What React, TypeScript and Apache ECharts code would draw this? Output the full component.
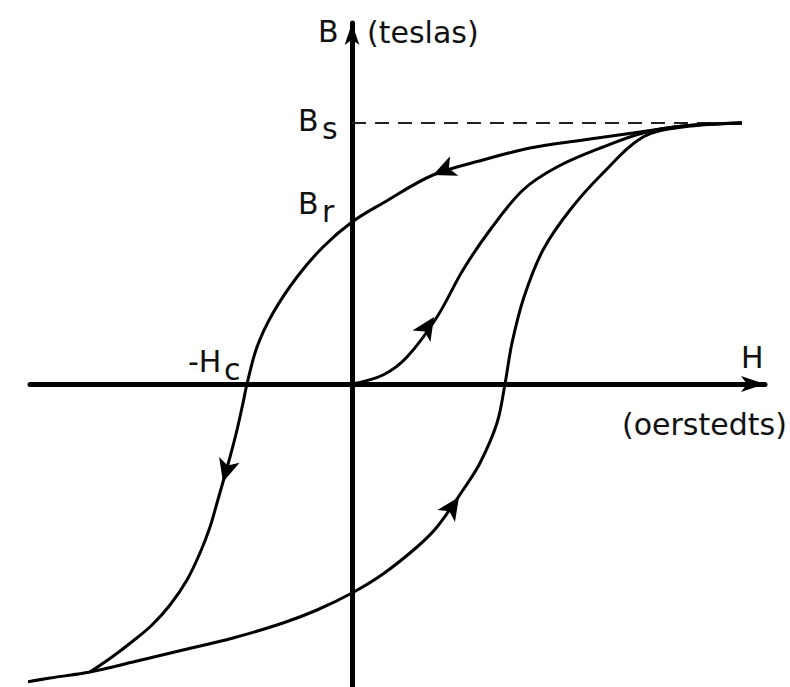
import React, { useEffect, useRef } from "react";
import * as echarts from "echarts";

// Characteristic values (H in arbitrary oersted units, B in arbitrary tesla units)
const BS = 2.61; // saturation flux density
const BR = 1.62; // remanence
const HC = -1.05; // coercive field (negative side)
const H_TIP = 3.9; // field at saturation tip

// Initial magnetization curve (from origin to saturation)
const initialCurve: number[][] = [
  [0, 0], [0.31, 0.09], [0.55, 0.27], [0.85, 0.67], [1.11, 1.14], [1.38, 1.54],
  [1.71, 1.94], [2.05, 2.17], [2.51, 2.37], [2.91, 2.51], [3.31, 2.58], [3.9, 2.61],
];

// Descending branch (saturation -> where it merges with the ascending branch)
const descendingBranch: number[][] = [
  [3.9, 2.61], [3.31, 2.58], [2.81, 2.51], [2.31, 2.44], [1.78, 2.36], [1.31, 2.24],
  [0.81, 2.09], [0.31, 1.81], [0, 1.62], [-0.29, 1.37], [-0.55, 1.07], [-0.79, 0.71],
  [-0.95, 0.37], [-1.05, 0], [-1.09, -0.19], [-1.15, -0.46], [-1.22, -0.73],
  [-1.35, -1.19], [-1.42, -1.43], [-1.52, -1.69], [-1.65, -1.96], [-1.82, -2.21],
  [-2.0, -2.41], [-2.19, -2.57], [-2.4, -2.73], [-2.62, -2.88],
];

// Ascending branch (negative saturation -> saturation)
const ascendingBranch: number[][] = [
  [-3.52, -3.03], [-3.42, -3.01], [-3.02, -2.94], [-2.62, -2.88], [-2.19, -2.78],
  [-1.69, -2.66], [-1.19, -2.54], [-0.69, -2.39], [-0.35, -2.26], [0, -2.09],
  [0.31, -1.9], [0.65, -1.63], [0.85, -1.43], [1.11, -1.06], [1.28, -0.79],
  [1.45, -0.39], [1.53, 0], [1.6, 0.41], [1.72, 0.87], [1.91, 1.34], [2.18, 1.74],
  [2.51, 2.11], [2.91, 2.47], [3.31, 2.57], [3.9, 2.61],
];

// Direction arrows on curves: [H, B, direction angle in degrees]
const arrowMarks: number[][] = [
  [0.81, 2.09, 203],
  [-1.29, -0.98, 254],
  [1.07, -1.13, 56],
  [0.82, 0.67, 57],
];

const FONT = "'DejaVu Sans', sans-serif";
const FS = 30;
const INK = "#111";

export default function App() {
  const ref = useRef<HTMLDivElement>(null);
  useEffect(() => {
    if (!ref.current) return;
    const chart = echarts.init(ref.current, null, { renderer: "svg" });
    const curveStyle = { color: "#000", width: 3 };
    const labelItem = (value: number[], text: string, offset: number[]) => ({
      value,
      label: {
        show: true,
        formatter: text,
        position: "inside",
        align: "left",
        verticalAlign: "middle",
        offset,
        color: INK,
        opacity: 1,
        fontSize: FS,
        fontFamily: FONT,
      },
    });
    chart.setOption({
      animation: false,
      backgroundColor: "#fff",
      grid: { left: 30, right: 25, top: 23, bottom: 0 },
      xAxis: {
        type: "value",
        min: -3.22,
        max: 4.13,
        axisLine: {
          onZero: true,
          symbol: ["none", "arrow"],
          symbolSize: [12, 24],
          lineStyle: { color: "#000", width: 5 },
        },
        axisTick: { show: false },
        axisLabel: { show: false },
        splitLine: { show: false },
      },
      yAxis: {
        type: "value",
        min: -3.03,
        max: 3.61,
        axisLine: {
          onZero: true,
          symbol: ["none", "arrow"],
          symbolSize: [11, 22],
          lineStyle: { color: "#000", width: 5 },
        },
        axisTick: { show: false },
        axisLabel: { show: false },
        splitLine: { show: false },
      },
      series: [
        {
          name: "Saturation level",
          type: "line",
          data: [[0, BS], [H_TIP, BS]],
          showSymbol: false,
          lineStyle: { color: "#222", width: 2, type: [14, 9] },
          z: 1,
        },
        {
          name: "Initial magnetization",
          type: "line",
          data: initialCurve,
          smooth: 0.35,
          showSymbol: false,
          clip: false,
          lineStyle: curveStyle,
        },
        {
          name: "Descending branch",
          type: "line",
          data: descendingBranch,
          smooth: 0.35,
          showSymbol: false,
          clip: false,
          lineStyle: curveStyle,
        },
        {
          name: "Ascending branch",
          type: "line",
          data: ascendingBranch,
          smooth: 0.35,
          showSymbol: false,
          clip: false,
          lineStyle: curveStyle,
        },
        {
          name: "Arrows",
          type: "scatter",
          data: arrowMarks.map((a) => ({ value: [a[0], a[1]], symbolRotate: a[2] - 90 })),
          symbol: "arrow",
          symbolSize: [16, 23],
          itemStyle: { color: "#000", opacity: 1 },
          z: 5,
        },
        {
          name: "Labels",
          type: "scatter",
          symbolSize: 1,
          itemStyle: { color: "rgba(0,0,0,0)", opacity: 1 },
          silent: true,
          data: [
            labelItem([0, BS], "B", [-54, -3]),
            labelItem([0, BS], "s", [-30, 5]),
            labelItem([0, BR], "B", [-54, -19]),
            labelItem([0, BR], "r", [-30, -11]),
            labelItem([HC, 0], "-H", [-59, -23]),
            labelItem([HC, 0], "c", [-23, -15]),
          ],
          z: 6,
        },
      ],
      graphic: [
        { type: "text", style: { text: "B", x: 318, y: 31, fill: INK, font: `${FS}px ${FONT}`, verticalAlign: "middle" } },
        { type: "text", style: { text: "(teslas)", x: 367, y: 32, fill: INK, font: `${FS}px ${FONT}`, verticalAlign: "middle" } },
        { type: "text", style: { text: "H", x: 741, y: 357, fill: INK, font: `${FS}px ${FONT}`, verticalAlign: "middle" } },
        { type: "text", style: { text: "(oerstedts)", x: 622, y: 424, fill: INK, font: `${FS}px ${FONT}`, verticalAlign: "middle" } },
      ],
    });
    return () => chart.dispose();
  }, []);
  return (
    <div
      ref={ref}
      style={{ position: "fixed", left: 0, top: 0, width: 790, height: 687, background: "#fff" }}
    />
  );
}
